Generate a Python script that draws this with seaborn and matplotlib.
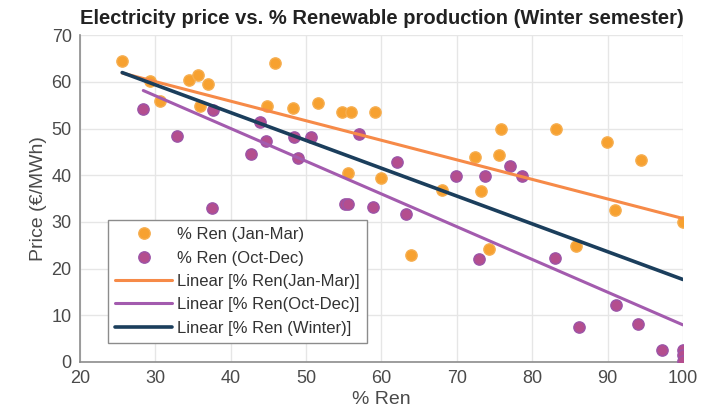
import matplotlib
matplotlib.use("Agg")
import matplotlib.pyplot as plt
import seaborn as sns
import numpy as np
import pandas as pd
from matplotlib.lines import Line2D

# % renewable production and day-ahead price, first quarter (Jan-Mar)
jan_ren = [25.6, 29.3, 30.6, 34.4, 35.6, 37.0, 35.9, 45.9, 44.8, 48.3,
           51.6, 54.8, 56.0, 59.1, 72.4, 55.5, 59.9, 68.1, 73.2, 75.9,
           83.1, 89.9, 94.4, 75.6, 63.9, 74.3, 91.0, 100.0, 85.8]
jan_price = [64.5, 60.2, 55.9, 60.4, 61.4, 59.5, 54.8, 64.1, 54.8, 54.4,
             55.5, 53.6, 53.6, 53.6, 43.8, 40.4, 39.4, 36.8, 36.6, 49.8,
             49.8, 47.1, 43.2, 44.3, 23.0, 24.1, 32.5, 30.0, 24.8]

# last quarter (Oct-Dec)
oct_ren = [28.4, 32.9, 37.6, 43.9, 44.7, 42.7, 48.4, 48.9, 50.7, 57.0,
           62.1, 69.9, 73.8, 77.1, 78.7, 37.5, 55.1, 55.6, 58.9, 63.2,
           73.0, 83.0, 91.1, 86.2, 94.1, 97.2, 100.0, 100.0, 100.0]
oct_price = [54.1, 48.4, 53.9, 51.3, 47.3, 44.5, 48.2, 43.6, 48.1, 48.8,
             42.9, 39.9, 39.9, 41.9, 39.9, 33.0, 33.9, 33.8, 33.1, 31.6,
             22.1, 22.3, 12.3, 7.4, 8.1, 2.5, 2.6, 1.5, 0.3]

x_ticks = [20, 30, 40, 50, 60, 70, 80, 90, 100]
y_ticks = [0, 10, 20, 30, 40, 50, 60, 70]

labels = ["% Ren (Jan-Mar)", "% Ren (Oct-Dec)",
          "Linear [% Ren(Jan-Mar)]", "Linear [% Ren(Oct-Dec)]",
          "Linear [% Ren (Winter)]"]

jan = pd.DataFrame({"ren": jan_ren, "price": jan_price})
octd = pd.DataFrame({"ren": oct_ren, "price": oct_price})
winter = pd.concat([jan, octd], ignore_index=True)

sns.set_theme(style="white")
plt.rcParams["font.family"] = ["Liberation Sans", "DejaVu Sans"]

c_jan_pt, c_jan_edge = "#F7A130", "#F6AE50"
c_oct_pt, c_oct_edge = "#B44E8E", "#9C55A8"
c_jan_ln = "#F68A48"
c_oct_ln = "#A35BAE"
c_win_ln = "#1B3E5C"
c_text = "#4A4A4A"

fig = plt.figure(figsize=(7.06, 4.18), dpi=100)
ax = fig.add_axes([0.1133, 0.134, 0.854, 0.782])

ms = 66
sns.scatterplot(data=jan, x="ren", y="price", ax=ax, s=ms, color=c_jan_pt,
                edgecolor=c_jan_edge, linewidth=1.0, zorder=3)
sns.scatterplot(data=octd, x="ren", y="price", ax=ax, s=ms, color=c_oct_pt,
                edgecolor=c_oct_edge, linewidth=1.0, zorder=3)

sns.regplot(data=jan, x="ren", y="price", ax=ax, scatter=False, ci=None,
            truncate=True, line_kws={"color": c_jan_ln, "lw": 2.2, "zorder": 4})
sns.regplot(data=octd, x="ren", y="price", ax=ax, scatter=False, ci=None,
            truncate=True, line_kws={"color": c_oct_ln, "lw": 2.2, "zorder": 4})
sns.regplot(data=winter, x="ren", y="price", ax=ax, scatter=False, ci=None,
            truncate=True, line_kws={"color": c_win_ln, "lw": 2.6, "zorder": 5})

ax.set_xlim(20, 100)
ax.set_ylim(0, 70)
ax.set_xticks(x_ticks)
ax.set_yticks(y_ticks)
ax.set_xticklabels([str(v) for v in x_ticks])
ax.set_yticklabels([str(v) for v in y_ticks])
ax.grid(True, color="#E6E6E6", lw=1.0, zorder=0)
ax.set_axisbelow(True)

for side in ("top", "right"):
    ax.spines[side].set_visible(False)
for side in ("left", "bottom"):
    ax.spines[side].set_color("#8C8C8C")
    ax.spines[side].set_linewidth(1.2)
ax.tick_params(axis="both", direction="in", length=4, width=0.8,
               color="#8C8C8C", labelsize=13, labelcolor=c_text, pad=6)

ax.set_xlabel("% Ren", fontsize=14, color=c_text, labelpad=3)
ax.set_ylabel("Price (€/MWh)", fontsize=14, color=c_text, labelpad=3)
ax.set_title("Electricity price vs. % Renewable production (Winter semester)",
             fontsize=14.5, fontweight="bold", color="#222222", pad=8)

handles = [
    Line2D([], [], ls="none", marker="o", ms=8.2, color=c_jan_pt, mec=c_jan_edge),
    Line2D([], [], ls="none", marker="o", ms=8.2, color=c_oct_pt, mec=c_oct_edge),
    Line2D([], [], color=c_jan_ln, lw=2.2),
    Line2D([], [], color=c_oct_ln, lw=2.2),
    Line2D([], [], color=c_win_ln, lw=2.6),
]
leg = ax.legend(handles, labels, loc="lower left", bbox_to_anchor=(0.046, 0.058),
                fontsize=12, frameon=True, fancybox=False, framealpha=1,
                edgecolor="#8C8C8C", handlelength=3.4, handletextpad=0.3,
                labelspacing=0.5, borderpad=0.45, borderaxespad=0)
leg.get_frame().set_linewidth(1.0)
for t in leg.get_texts():
    t.set_color("#333333")

fig.savefig("out.png", dpi=100)
